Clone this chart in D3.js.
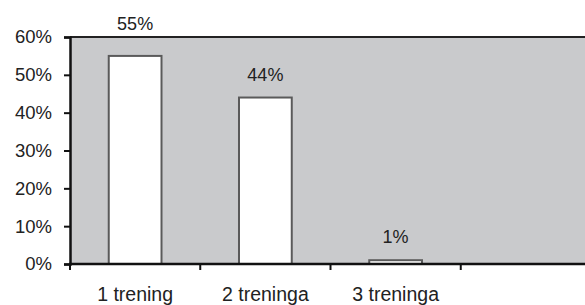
<!DOCTYPE html>
<html>
<head>
<meta charset="utf-8">
<script src="https://cdn.jsdelivr.net/npm/d3@7"></script>
<style>
  html, body { margin: 0; padding: 0; background: #fff; }
  svg { display: block; }
  text { font-family: "Liberation Sans", Arial, Helvetica, sans-serif; fill: #222; }
</style>
</head>
<body>
<svg id="chart" width="585" height="305"></svg>
<script>
const categories = ["1 trening", "2 treninga", "3 treninga", ""];
const values = [0.55, 0.44, 0.01, null];
const valueLabels = ["55%", "44%", "1%", ""];
const yTicks = [0, 0.1, 0.2, 0.3, 0.4, 0.5, 0.6];

(function () {
const W = 585, H = 305;
const mLeft = 70, mRight = 591, mTop = 37, mBottom = 264;

const svg = d3.select("#chart");

const x = d3.scaleBand().domain(d3.range(categories.length)).range([mLeft, mRight]).padding(0);
const y = d3.scaleLinear().domain([0, 0.6]).range([mBottom, mTop]);

// plot area background
svg.append("rect")
  .attr("x", mLeft).attr("y", mTop)
  .attr("width", mRight - mLeft).attr("height", mBottom - mTop)
  .attr("fill", "#c9cacc");

// top border
svg.append("line")
  .attr("x1", mLeft).attr("x2", W).attr("y1", mTop).attr("y2", mTop)
  .attr("stroke", "#222").attr("stroke-width", 2);

// bars
const barW = x.bandwidth() * 0.405;
const data = categories.map((c, i) => ({ i, c, v: values[i], label: valueLabels[i] })).filter(d => d.v != null);

svg.selectAll("rect.bar").data(data).enter().append("rect")
  .attr("class", "bar")
  .attr("x", d => x(d.i) + x.bandwidth() / 2 - barW / 2)
  .attr("y", d => y(d.v))
  .attr("width", barW)
  .attr("height", d => y(0) - y(d.v))
  .attr("fill", "#fff")
  .attr("stroke", "#5a5a5a")
  .attr("stroke-width", 2);

// value labels
svg.selectAll("text.val").data(data).enter().append("text")
  .attr("class", "val")
  .attr("x", d => x(d.i) + x.bandwidth() / 2)
  .attr("y", d => {
    const yl = y(d.v) - 17;
    return (yl - 14 < mTop) ? mTop - 7 : yl;
  })
  .attr("text-anchor", "middle")
  .attr("font-size", 18)
  .text(d => d.label);

// y axis
const yAxis = d3.axisLeft(y).tickValues(yTicks).tickFormat(d3.format(".0%")).tickSize(6).tickPadding(12);
const gy = svg.append("g").attr("transform", `translate(${mLeft},0)`).call(yAxis);
gy.select(".domain").attr("stroke", "#111").attr("stroke-width", 2.5);
gy.selectAll(".tick line").attr("stroke", "#111").attr("stroke-width", 2);
gy.selectAll(".tick text").attr("font-size", 18.5).attr("fill", "#222")
  .attr("font-family", "Liberation Sans, Arial, sans-serif");

// x axis line
svg.append("line")
  .attr("x1", mLeft - 1).attr("x2", W).attr("y1", mBottom).attr("y2", mBottom)
  .attr("stroke", "#111").attr("stroke-width", 2.5);

// x boundary ticks
svg.selectAll("line.xtick").data(d3.range(categories.length)).enter().append("line")
  .attr("class", "xtick")
  .attr("x1", i => x(i)).attr("x2", i => x(i))
  .attr("y1", mBottom).attr("y2", mBottom + 6)
  .attr("stroke", "#111").attr("stroke-width", 2);

// x labels
svg.selectAll("text.cat").data(categories.map((c, i) => ({ c, i }))).enter().append("text")
  .attr("class", "cat")
  .attr("x", d => x(d.i) + x.bandwidth() / 2)
  .attr("y", 301)
  .attr("text-anchor", "middle")
  .attr("font-size", 19.5)
  .text(d => d.c);
})();
</script>
</body>
</html>
